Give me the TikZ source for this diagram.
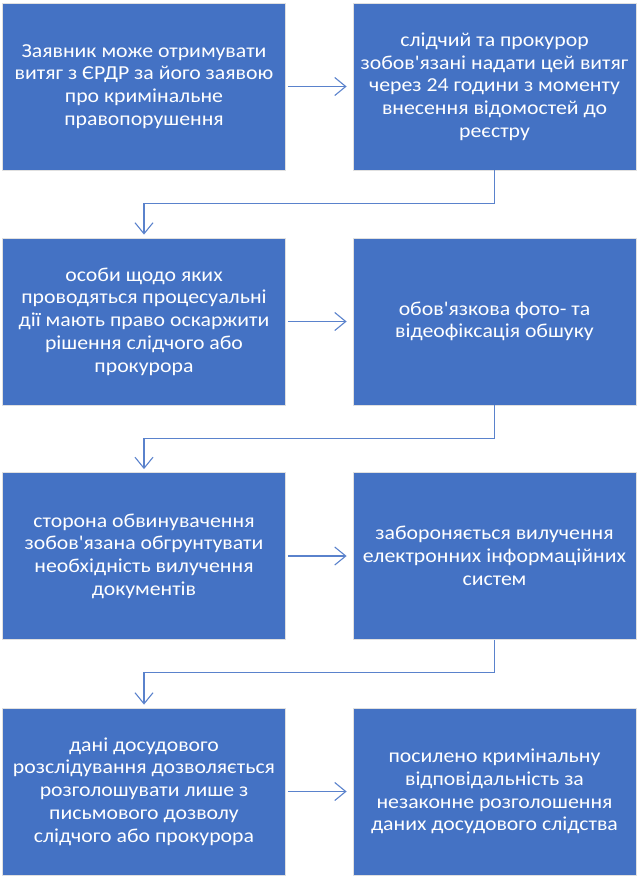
\documentclass[tikz,border=0pt]{standalone}
\usepackage{fontspec}
\setmainfont{Carlito}[Ligatures=TeXOff, FakeStretch=1.1]
\usepackage{tikz}
\usetikzlibrary{arrows.meta}
\definecolor{boxblue}{HTML}{4472C4}
\definecolor{lineblue}{HTML}{5A82CC}
\tikzset{
    every node/.style={rectangle, fill=boxblue, draw=white!88!black, line width=0.8pt,
    	minimum width=283pt, minimum height=167pt, inner sep=0pt, align=center,
    	text=white, font=\fontsize{19.8}{22.7}\selectfont}
}
\tikzset{
    every edge/.append style={line width=1.1pt, draw=lineblue}
}
\tikzset{
	>={Straight Barb[length=11pt,width=18pt,line width=1.1pt]}
}

\begin{document}
\begin{tikzpicture}[x=1pt,y=-1pt]
	\useasboundingbox (0,0) rectangle (640,879);
	\node (1) at (144,86.5) {Заявник може отримувати\\витяг з ЄРДР за його заявою\\про кримінальне\\правопорушення};
	\node (2) at (494.5,86.5) {слідчий та прокурор\\зобов'язані надати цей витяг\\через 24 години з моменту\\внесення відомостей до\\реєстру};
	\node (3) at (144,321.5) {особи щодо яких\\проводяться процесуальні\\дії мають право оскаржити\\рішення слідчого або\\прокурора};
	\node (4) at (494.5,321.5) {обов'язкова фото- та\\відеофіксація обшуку};
	\node (5) at (144,556) {сторона обвинувачення\\зобов'язана обгрунтувати\\необхідність вилучення\\документів};
	\node (6) at (494.5,556) {забороняється вилучення\\електронних інформаційних\\систем};
	\node (7) at (144,791.5) {дані досудового\\розслідування дозволяється\\розголошувати лише з\\письмового дозволу\\слідчого або прокурора};
	\node (8) at (494.5,791.5) {посилено кримінальну\\відповідальність за\\незаконне розголошення\\даних досудового слідства};

	\draw (1) edge [->, shorten <=2pt, shorten >=6pt] (2); \draw (3) edge [->, shorten <=2pt, shorten >=6pt] (4);
	\draw (5) edge [->, shorten <=2pt, shorten >=6pt] (6); \draw (7) edge [->, shorten <=2pt, shorten >=6pt] (8);
	\draw [->, line width=1.1pt, lineblue, shorten >=3pt] (2.south) -- ++(0,33) -| (3.north);
	\draw [->, line width=1.1pt, lineblue, shorten >=3pt] (4.south) -- ++(0,33) -| (5.north);
	\draw [->, line width=1.1pt, lineblue, shorten >=3pt] (6.south) -- ++(0,33) -| (7.north);
\end{tikzpicture}
\end{document}
